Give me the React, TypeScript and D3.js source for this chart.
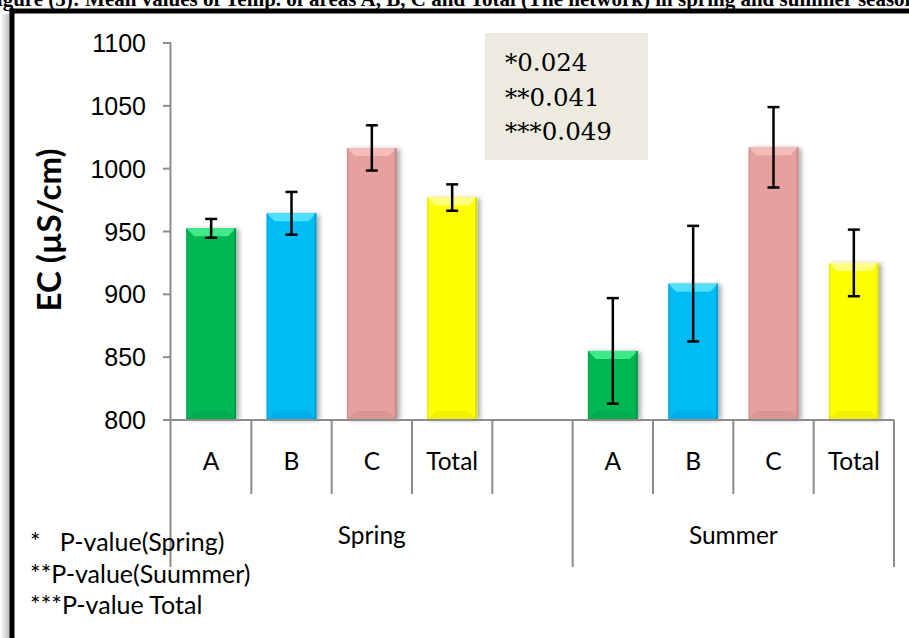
import React from 'react';
import * as d3 from 'd3';

// values
const categories = ['A', 'B', 'C', 'Total'];
const seasons = ['Spring', 'Summer'];
const springMeans = [952.5, 964.5, 1016.5, 977];
const springErr = [7.5, 17, 18, 10.5];
const summerMeans = [855, 908.5, 1017, 925];
const summerErr = [42, 46, 32, 26.5];
const yTicks = [800, 850, 900, 950, 1000, 1050, 1100];
const pValues = ['*0.024', '**0.041', '***0.049'];
const pNotes = ['*   P-value(Spring)', '**P-value(Suummer)', '***P-value Total'];
const colors = ['#06b853', '#00bcf5', '#e6a09e', '#ffff00'];
const light = ['#3fe889', '#4fe0ff', '#f2bdbb', '#ffff80'];
const dark = ['#04934a', '#0097c8', '#c48583', '#d9d900'];

const W = 909;
const H = 638;
const plotTop = 43;
const plotBottom = 420;
const left = 171;
const right = 894;

const sans = 'Lato, "Open Sans", sans-serif';

const App = () => {
  // 9 slots: 4 spring, 1 blank, 4 summer
  const slots = d3.range(9);
  const x = d3.scaleBand<number>().domain(slots).range([left, right]);
  const y = d3.scaleLinear().domain([800, 1100]).range([plotBottom, plotTop]);
  const bw = x.bandwidth() * 0.62;

  const bars = [
    ...springMeans.map((v, i) => ({ slot: i, v, e: springErr[i], c: i })),
    ...summerMeans.map((v, i) => ({ slot: i + 5, v, e: summerErr[i], c: i })),
  ];
  const labelSlots = [0, 1, 2, 3, 5, 6, 7, 8];
  const grey = '#8c8c8c';
  const d = 8;

  return (
    <svg width={W} height={H} style={{ position: 'absolute', left: 0, top: 0, background: '#fff' }}>
      <defs>
        <linearGradient id="shadeL" x1="0" x2="1" y1="0" y2="0">
          <stop offset="0" stopColor="#fff" />
          <stop offset="1" stopColor="#bbb" />
        </linearGradient>
        <filter id="shadow" x="-20%" y="-10%" width="150%" height="130%">
          <feDropShadow dx="3" dy="1" stdDeviation="2.5" floodColor="#000" floodOpacity="0.35" />
        </filter>
      </defs>

      {/* cut-off figure caption */}
      <text x={-16} y={5.5} fontFamily='"Liberation Serif", "Times New Roman", serif' fontWeight="bold" fontSize={21}>
        Figure (5): Mean values of  Temp. of areas A, B, C and Total (The network) in spring and summer seasons
      </text>

      {/* frame */}
      <rect x={0} y={14} width={10} height={H} fill="url(#shadeL)" />
      <rect x={9.5} y={8.5} width={W} height={5} fill="#000" />
      <rect x={9.5} y={8.5} width={5} height={H} fill="#000" />

      {/* p-value box */}
      <rect x={485} y={33} width={163} height={127} fill="#edebe0" />
      {pValues.map((p, i) => (
        <text key={p} x={505} y={71 + i * 34.5} fontFamily='"DejaVu Serif", "Liberation Serif", serif' fontSize={24.5}>
          {p}
        </text>
      ))}

      {/* y axis */}
      <line x1={left - 0.5} x2={left - 0.5} y1={plotTop} y2={567} stroke={grey} strokeWidth={2} />
      {yTicks.map(t => (
        <g key={t}>
          <line x1={163} x2={left} y1={y(t)} y2={y(t)} stroke={grey} strokeWidth={2} />
          <text x={146} y={y(t) + 9} textAnchor="end" fontFamily='"Liberation Sans", Arial, sans-serif' fontSize={25}>
            {t}
          </text>
        </g>
      ))}
      <text
        transform={`translate(61,${(147 + 313) / 2}) rotate(-90)`}
        textAnchor="middle"
        fontFamily={sans}
        fontWeight="bold"
        fontSize={33}
      >
        EC (µS/cm)
      </text>

      {/* bars */}
      {bars.map(b => {
        const bx = (x(b.slot) as number) + (x.bandwidth() - bw) / 2;
        const by = y(b.v);
        const bh = plotBottom - 1 - by;
        const r = bx + bw;
        const btm = by + bh;
        return (
          <g key={b.slot}>
            <g filter="url(#shadow)">
              <rect x={bx} y={by} width={bw} height={bh} fill={colors[b.c]} />
            </g>
            <polygon points={`${bx},${by} ${r},${by} ${r - d},${by + d} ${bx + d},${by + d}`} fill={light[b.c]} />
            <polygon points={`${bx},${btm} ${r},${btm} ${r - d},${btm - d} ${bx + d},${btm - d}`} fill={dark[b.c]} opacity={0.35} />
            <rect x={r - 2} y={by} width={2} height={bh} fill={dark[b.c]} opacity={0.8} />
            <rect x={bx} y={by} width={1.5} height={bh} fill={dark[b.c]} opacity={0.5} />
          </g>
        );
      })}

      {/* error bars */}
      {bars.map(b => {
        const cx = (x(b.slot) as number) + x.bandwidth() / 2;
        return (
          <g key={'e' + b.slot} stroke="#000" strokeWidth={2.5}>
            <line x1={cx} x2={cx} y1={y(b.v + b.e)} y2={y(b.v - b.e)} />
            <line x1={cx - 6} x2={cx + 6} y1={y(b.v + b.e)} y2={y(b.v + b.e)} />
            <line x1={cx - 6} x2={cx + 6} y1={y(b.v - b.e)} y2={y(b.v - b.e)} />
          </g>
        );
      })}

      {/* category axis */}
      <line x1={163} x2={right} y1={plotBottom} y2={plotBottom} stroke={grey} strokeWidth={2} />
      {slots.slice(1).map(s => {
        const sx = x(s) as number;
        const outer = s === 5;
        return <line key={s} x1={sx} x2={sx} y1={plotBottom} y2={outer ? 567 : 494} stroke={grey} strokeWidth={2} />;
      })}
      <line x1={right} x2={right} y1={plotBottom} y2={567} stroke={grey} strokeWidth={2} />
      {labelSlots.map((s, i) => (
        <text
          key={s}
          x={(x(s) as number) + x.bandwidth() / 2}
          y={470}
          textAnchor="middle"
          fontFamily={sans}
          fontSize={24.5}
        >
          {categories[i % 4]}
        </text>
      ))}
      {seasons.map((s, i) => {
        const a = x(i === 0 ? 0 : 5) as number;
        const bEnd = i === 0 ? (x(5) as number) : right;
        return (
          <text key={s} x={(a + bEnd) / 2} y={544} textAnchor="middle" fontFamily={sans} fontSize={24.5}>
            {s}
          </text>
        );
      })}

      {/* notes */}
      {pNotes.map((n, i) => (
        <text key={n} x={30} y={551 + i * 31.5} fontFamily={sans} fontSize={25} style={{ whiteSpace: 'pre' }}>
          {n}
        </text>
      ))}
    </svg>
  );
};

export default App;
